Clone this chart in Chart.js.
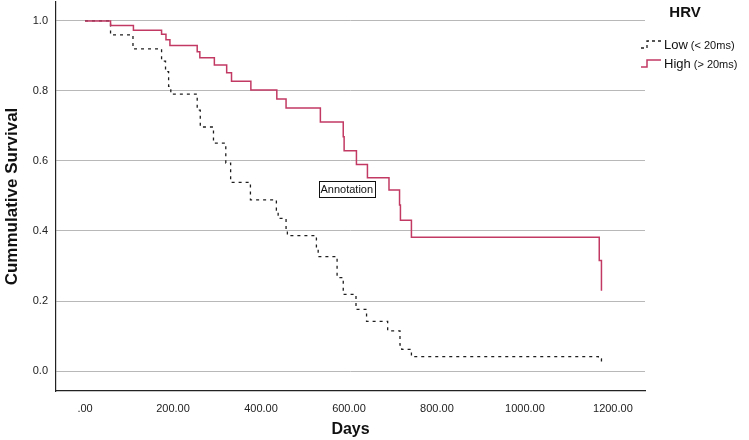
<!DOCTYPE html>
<html>
<head>
<meta charset="utf-8">
<script src="https://cdn.jsdelivr.net/npm/chart.js@4"></script>
<style>
  html, body { margin: 0; padding: 0; background: #fff; }
  #wrap { width: 749px; height: 440px; position: relative; }
</style>
</head>
<body>
<div id="wrap"><canvas id="survivalChart"></canvas></div>
<script>
// Kaplan-Meier steps (day of drop, survival after the drop)
const highDays = [0, 58, 110, 174, 184, 193, 255, 261, 294, 322, 333, 377, 436, 457, 535, 587, 589, 617, 642, 691, 715, 717, 742, 1169, 1174];
const highSurvival = [1.0, 0.987, 0.973, 0.962, 0.946, 0.93, 0.912, 0.895, 0.874, 0.852, 0.828, 0.803, 0.777, 0.751, 0.711, 0.669, 0.629, 0.59, 0.552, 0.517, 0.474, 0.431, 0.382, 0.316, 0.229];

const lowDays = [0, 58, 109, 174, 183, 190, 195, 255, 262, 292, 320, 331, 376, 435, 439, 457, 460, 526, 530, 573, 587, 616, 640, 688, 716, 720, 742, 1167, 1174];
const lowSurvival = [1.0, 0.96, 0.92, 0.885, 0.855, 0.813, 0.791, 0.745, 0.697, 0.651, 0.594, 0.539, 0.489, 0.46, 0.436, 0.403, 0.387, 0.349, 0.327, 0.267, 0.219, 0.176, 0.142, 0.115, 0.074, 0.062, 0.041, 0.035, 0.017];

const xTicks = [0, 200, 400, 600, 800, 1000, 1200];
const yTicks = [0, 0.2, 0.4, 0.6, 0.8, 1.0];

const groupLabels = ['Low', 'High'];
const groupNotes = ['(< 20ms)', '(> 20ms)'];
const legendTitle = 'HRV';
const annotationText = 'Annotation';
const annotationAt = { x: 595, y: 0.52 };

const FONT = "'Liberation Sans', Arial, sans-serif";
const RED = '#c23a64';
const DARK = '#1e1e1e';

const toPoints = (days, surv) => days.map((d, i) => ({ x: d, y: surv[i] }));

// legend at the top right, drawn by hand like the SPSS output
const legendPlugin = {
    id: 'hrvLegend',
    afterDraw(chart) {
        const ctx = chart.ctx;
        ctx.save();
        ctx.fillStyle = '#111';
        ctx.font = 'bold 15px ' + FONT;
        ctx.textAlign = 'center';
        ctx.textBaseline = 'middle';
        ctx.fillText(legendTitle, 685, 13);

        const rows = [
            { y: 44, color: DARK, dash: [3, 3], width: 1.3 },
            { y: 63, color: RED, dash: [], width: 1.5 }
        ];
        rows.forEach((row, i) => {
            ctx.strokeStyle = row.color;
            ctx.lineWidth = row.width;
            ctx.setLineDash(row.dash);
            ctx.beginPath();
            ctx.moveTo(641, row.y + 4);
            ctx.lineTo(647, row.y + 4);
            ctx.lineTo(647, row.y - 3);
            ctx.lineTo(661, row.y - 3);
            ctx.stroke();
            ctx.setLineDash([]);

            ctx.textAlign = 'left';
            ctx.textBaseline = 'alphabetic';
            ctx.fillStyle = '#111';
            ctx.font = '13px ' + FONT;
            ctx.fillText(groupLabels[i], 664, row.y + 5);
            const w = ctx.measureText(groupLabels[i]).width;
            ctx.font = '11px ' + FONT;
            ctx.fillText(groupNotes[i], 664 + w + 3, row.y + 5);
        });
        ctx.restore();
    }
};

// boxed text label placed in data coordinates
const annotationPlugin = {
    id: 'boxLabel',
    afterDraw(chart) {
        const ctx = chart.ctx;
        const cx = chart.scales.x.getPixelForValue(annotationAt.x);
        const cy = chart.scales.y.getPixelForValue(annotationAt.y);
        ctx.save();
        ctx.font = '11px ' + FONT;
        const w = ctx.measureText(annotationText).width + 3;
        const h = 16;
        ctx.fillStyle = '#fff';
        ctx.fillRect(cx - w / 2, cy - h / 2, w, h);
        ctx.strokeStyle = '#111';
        ctx.lineWidth = 1;
        ctx.strokeRect(Math.round(cx - w / 2) + 0.5, Math.round(cy - h / 2) + 0.5, Math.round(w), h);
        ctx.fillStyle = '#111';
        ctx.textAlign = 'center';
        ctx.textBaseline = 'middle';
        ctx.fillText(annotationText, cx, cy + 1);
        ctx.restore();
    }
};

new Chart(document.getElementById('survivalChart').getContext('2d'), {
    type: 'line',
    data: {
        datasets: [
            {
                label: 'High (> 20ms)',
                data: toPoints(highDays, highSurvival),
                borderColor: RED,
                borderWidth: 1.5,
                stepped: true,
                pointRadius: 0,
                fill: false,
                order: 0
            },
            {
                label: 'Low (< 20ms)',
                data: toPoints(lowDays, lowSurvival),
                borderColor: DARK,
                borderWidth: 1.3,
                borderDash: [3, 4],
                stepped: true,
                pointRadius: 0,
                fill: false,
                order: 1
            }
        ]
    },
    options: {
        responsive: true,
        maintainAspectRatio: false,
        animation: false,
        layout: { padding: { top: 2, right: 104, left: 0, bottom: 0 } },
        plugins: {
            legend: { display: false },
            tooltip: { enabled: false }
        },
        scales: {
            x: {
                type: 'linear',
                min: -66,
                max: 1273,
                afterBuildTicks: scale => { scale.ticks = xTicks.map(v => ({ value: v })); },
                afterFit: scale => { scale.height = 49; scale.paddingLeft = 0; scale.paddingRight = 0; },
                grid: { display: false, drawTicks: false },
                border: { display: true, color: '#222', width: 1.2 },
                ticks: {
                    padding: 11,
                    color: '#222',
                    font: { family: FONT, size: 11 },
                    maxRotation: 0,
                    callback: v => v === 0 ? '.00' : v.toFixed(2)
                },
                title: {
                    display: true,
                    text: 'Days',
                    color: '#111',
                    font: { family: FONT, size: 16, weight: 'bold' },
                    padding: { top: 2, bottom: 1 }
                }
            },
            y: {
                type: 'linear',
                min: -0.057,
                max: 1.054,
                afterBuildTicks: scale => { scale.ticks = yTicks.map(v => ({ value: v })); },
                afterFit: scale => { scale.width = 56; scale.paddingTop = 0; scale.paddingBottom = 0; },
                grid: { color: '#b8b8b8', lineWidth: 1, drawTicks: false },
                border: { display: true, color: '#222', width: 1.2 },
                ticks: {
                    padding: 8,
                    color: '#222',
                    font: { family: FONT, size: 11 },
                    callback: v => v.toFixed(1)
                },
                title: {
                    display: true,
                    text: 'Cummulative Survival',
                    color: '#111',
                    font: { family: FONT, size: 17, weight: 'bold' },
                    padding: { top: 2, bottom: 0 }
                }
            }
        }
    },
    plugins: [legendPlugin, annotationPlugin]
});
</script>
</body>
</html>
